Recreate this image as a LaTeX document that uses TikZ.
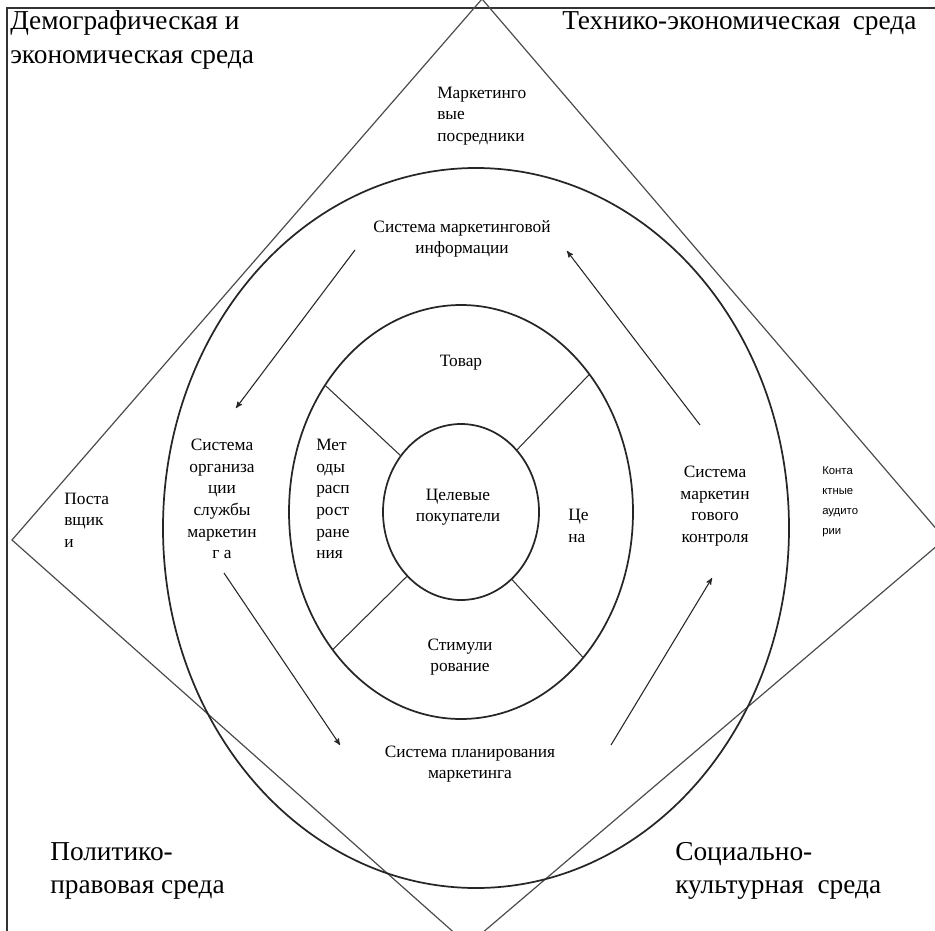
\documentclass[tikz,border=0pt]{standalone}
\usepackage{fontspec}
\setmainfont{LiberationSerif}[Extension=.ttf, UprightFont=*-Regular, BoldFont=*-Bold]
\newfontfamily\smallsans{Liberation Sans}
\usetikzlibrary{shapes.geometric,arrows,positioning}
\tikzset
    {
        ring/.style = {ellipse, draw=black!85, line width=1.3pt, inner sep=0pt, outer sep=0pt},
        env/.style = {align=left, anchor=west, inner sep=0pt, font=\fontsize{20.5}{25}\selectfont},
        txt/.style = {align=center, inner sep=0pt, font=\fontsize{13}{16.2}\selectfont},
        ltxt/.style = {txt, align=left, anchor=west},
        flow/.style = {->, >=stealth', line width=0.8pt, black!85},
        divider/.style = {draw=black!80, line width=0.8pt}
    }
\begin{document}
\begin{tikzpicture}[x=0.75pt, y=-0.75pt]
                        \useasboundingbox (0,0) rectangle (935,931);
                        \draw [black!80, line width=1.2pt] (935,8) -- (7,8) -- (7,931);
                        \coordinate (dtop) at (482,-1);
                        \coordinate (dright) at (945,539);
                        \coordinate (dbot) at (468,945);
                        \coordinate (dleft) at (12,540);
                        \draw [black!70, line width=0.9pt] (dtop) -- (dright) -- (dbot) -- (dleft) -- cycle;
                        \node [ring, minimum width=469.5pt, minimum height=540pt] (outer) at (476,528) {};
                        \node [ring, minimum width=258pt, minimum height=310.5pt] (middle) at (461,512) {};
                        \node [ring, minimum width=117pt, minimum height=132pt] (inner) at (461,512) {};
                        \foreach \ang/\angi in {137/137, 47/48, 227/230, 310/307}
                        {
                            \draw [divider] (middle.\ang) -- (inner.\angi);
                        }
                        \node [env] (demog) at (10,40) {Демографическая и\\экономическая среда};
                        \node [env] (tech) at (562,23) {Технико-экономическая\hspace{0.45em}среда};
                        \node [env] (polit) at (50,871) {Политико-\\правовая среда};
                        \node [env] (social) at (675,871) {Социально-\\культурная\hspace{0.5em}среда};
                        \node [ltxt] (posr) at (437,116) {Маркетинго\\вые\\посредники};
                        \node [ltxt] (postav) at (64,520) {Поста\\вщик\\и};
                        \node [ltxt, font=\smallsans\fontsize{8.5}{15}\selectfont] (kontakt) at (822,502) {Конта\\ктные\\аудито\\рии};
                        \node [txt] (info) at (462,239) {Система маркетинговой\\информации};
                        \node [txt] (org) at (222,499) {Система\\организа\\ции\\службы\\маркетин\\г а};
                        \node [txt] (plan) at (470,764) {Система планирования\\маркетинга};
                        \node [txt] (control) at (715,506) {Система\\маркетин\\гового\\контроля};
                        \node [txt] (tovar) at (461,363) {Товар};
                        \node [txt] (target) at (458,507) {Целевые\\покупатели};
                        \node [ltxt] (metody) at (316,499) {Мет\\оды\\расп\\рост\\ране\\ния};
                        \node [ltxt] (cena) at (568,526) {Це\\на};
                        \node [txt] (stim) at (460,657) {Стимули\\рование};
                        \coordinate (a1s) at (355,250);
                        \coordinate (a1e) at (236,408);
                        \coordinate (a2s) at (224,573);
                        \coordinate (a2e) at (340,745);
                        \coordinate (a3s) at (611,745);
                        \coordinate (a3e) at (712,578);
                        \coordinate (a4s) at (700,425);
                        \coordinate (a4e) at (567,251);
                        \draw [flow] (a1s) -- (a1e);
                        \draw [flow] (a2s) -- (a2e);
                        \draw [flow] (a3s) -- (a3e);
                        \draw [flow] (a4s) -- (a4e);
                    \end{tikzpicture}
\end{document}
